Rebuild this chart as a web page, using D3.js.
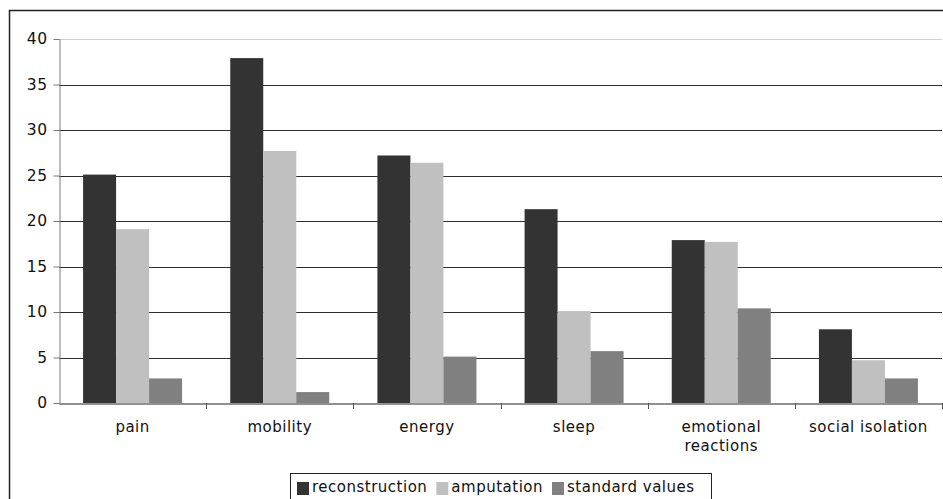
<!DOCTYPE html>
<html>
<head>
<meta charset="utf-8">
<script src="https://cdn.jsdelivr.net/npm/d3@7/dist/d3.min.js"></script>
<style>
  html, body { margin: 0; padding: 0; background: #fff; }
  svg { display: block; }
  text { font-family: "DejaVu Sans", Verdana, sans-serif; fill: #111; letter-spacing: 0.5px; }
</style>
</head>
<body>
<svg id="chart" width="943" height="499"></svg>
<script>
// Quality-of-life scores per domain
const categories = ["pain", "mobility", "energy", "sleep", "emotional reactions", "social isolation"];
const seriesNames = ["reconstruction", "amputation", "standard values"];
const reconstruction = [25.1, 37.9, 27.2, 21.3, 17.9, 8.1];
const amputation = [19.1, 27.7, 26.4, 10.1, 17.7, 4.7];
const standardValues = [2.7, 1.2, 5.1, 5.7, 10.4, 2.7];
const yTicks = [0, 5, 10, 15, 20, 25, 30, 35, 40];
const colors = ["#333333", "#c0c0c0", "#808080"];

const seriesValues = [reconstruction, amputation, standardValues];
const rows = categories.map((c, i) => ({
  category: c,
  values: seriesNames.map((s, j) => ({ series: s, value: seriesValues[j][i], color: colors[j] }))
}));

const svg = d3.select("#chart");
const plot = { left: 59, right: 942, top: 39, bottom: 403 };

// outer chart frame (extends past the visible area on the right and bottom)
svg.append("rect")
  .attr("x", 9.5).attr("y", 10.5)
  .attr("width", 1000).attr("height", 600)
  .attr("fill", "none").attr("stroke", "#222").attr("stroke-width", 1.5);

const x = d3.scaleBand().domain(categories).range([plot.left, plot.right]).paddingInner(0).paddingOuter(0);
const x1 = d3.scaleBand().domain(seriesNames).range([0, x.bandwidth()]).paddingInner(0).paddingOuter(0.73);
const y = d3.scaleLinear().domain([0, 40]).range([plot.bottom, plot.top]);

// horizontal gridlines
svg.append("g").selectAll("line")
  .data(yTicks.filter(t => t > 0))
  .join("line")
  .attr("x1", plot.left).attr("x2", plot.right)
  .attr("y1", d => Math.round(y(d)) + 0.5).attr("y2", d => Math.round(y(d)) + 0.5)
  .attr("stroke", d => d === 40 ? "#cfcfcf" : "#2e2e2e")
  .attr("stroke-width", d => d === 40 ? 1 : 1.2);

// bars
const groups = svg.append("g").selectAll("g")
  .data(rows)
  .join("g")
  .attr("transform", d => `translate(${x(d.category)},0)`);

groups.selectAll("rect")
  .data(d => d.values)
  .join("rect")
  .attr("x", d => x1(d.series))
  .attr("width", x1.bandwidth())
  .attr("y", d => y(d.value))
  .attr("height", d => y(0) - y(d.value))
  .attr("fill", d => d.color);

// y axis
const yAxis = d3.axisLeft(y).tickValues(yTicks).tickSize(6).tickPadding(6).tickSizeOuter(0);
const gy = svg.append("g").attr("transform", `translate(${plot.left + 0.5},0)`).call(yAxis);
gy.select(".domain").attr("stroke", "#7a7a7a");
gy.selectAll(".tick line").attr("stroke", "#7a7a7a");
gy.selectAll(".tick text")
  .style("font-size", "15.5px")
  .style("font-family", "DejaVu Sans")
  .style("letter-spacing", "0.5px")
  .attr("fill", "#111");

// x axis
const xAxis = d3.axisBottom(x).tickSize(0).tickPadding(0).tickSizeOuter(0);
const gx = svg.append("g").attr("transform", `translate(0,${Math.round(plot.bottom) + 0.5})`).call(xAxis);
gx.select(".domain").attr("stroke", "#222");
gx.selectAll(".tick").remove();

// category separators
svg.append("g").selectAll("line")
  .data(categories.map(c => x(c) + x.bandwidth()))
  .join("line")
  .attr("x1", d => Math.round(d) + 0.5).attr("x2", d => Math.round(d) + 0.5)
  .attr("y1", plot.bottom).attr("y2", plot.bottom + 6)
  .attr("stroke", "#555");

// category labels, wrapped to the band width
const labels = svg.append("g").selectAll("text")
  .data(categories)
  .join("text")
  .attr("x", d => x(d) + x.bandwidth() / 2)
  .attr("y", 432)
  .attr("text-anchor", "middle")
  .style("font-size", "15px")
  .text(d => d);

labels.each(function (d) {
  const t = d3.select(this);
  if (this.getComputedTextLength() > x.bandwidth() - 8) {
    const words = d.split(" ");
    t.text(null);
    words.forEach((w, i) => {
      t.append("tspan")
        .attr("x", x(d) + x.bandwidth() / 2)
        .attr("dy", i === 0 ? 0 : 19)
        .text(w);
    });
  }
});

// legend
const legend = svg.append("g");
legend.append("rect")
  .attr("x", 290.5).attr("y", 473.5)
  .attr("width", 421).attr("height", 40)
  .attr("fill", "#fff").attr("stroke", "#222").attr("stroke-width", 1);

let lx = 297;
seriesNames.forEach((s, i) => {
  legend.append("rect")
    .attr("x", lx).attr("y", 482)
    .attr("width", 12).attr("height", 13)
    .attr("fill", colors[i]);
  const t = legend.append("text")
    .attr("x", lx + 15).attr("y", 492)
    .style("font-size", "15px")
    .text(s);
  lx += 15 + t.node().getComputedTextLength() + 9;
});
</script>
</body>
</html>
